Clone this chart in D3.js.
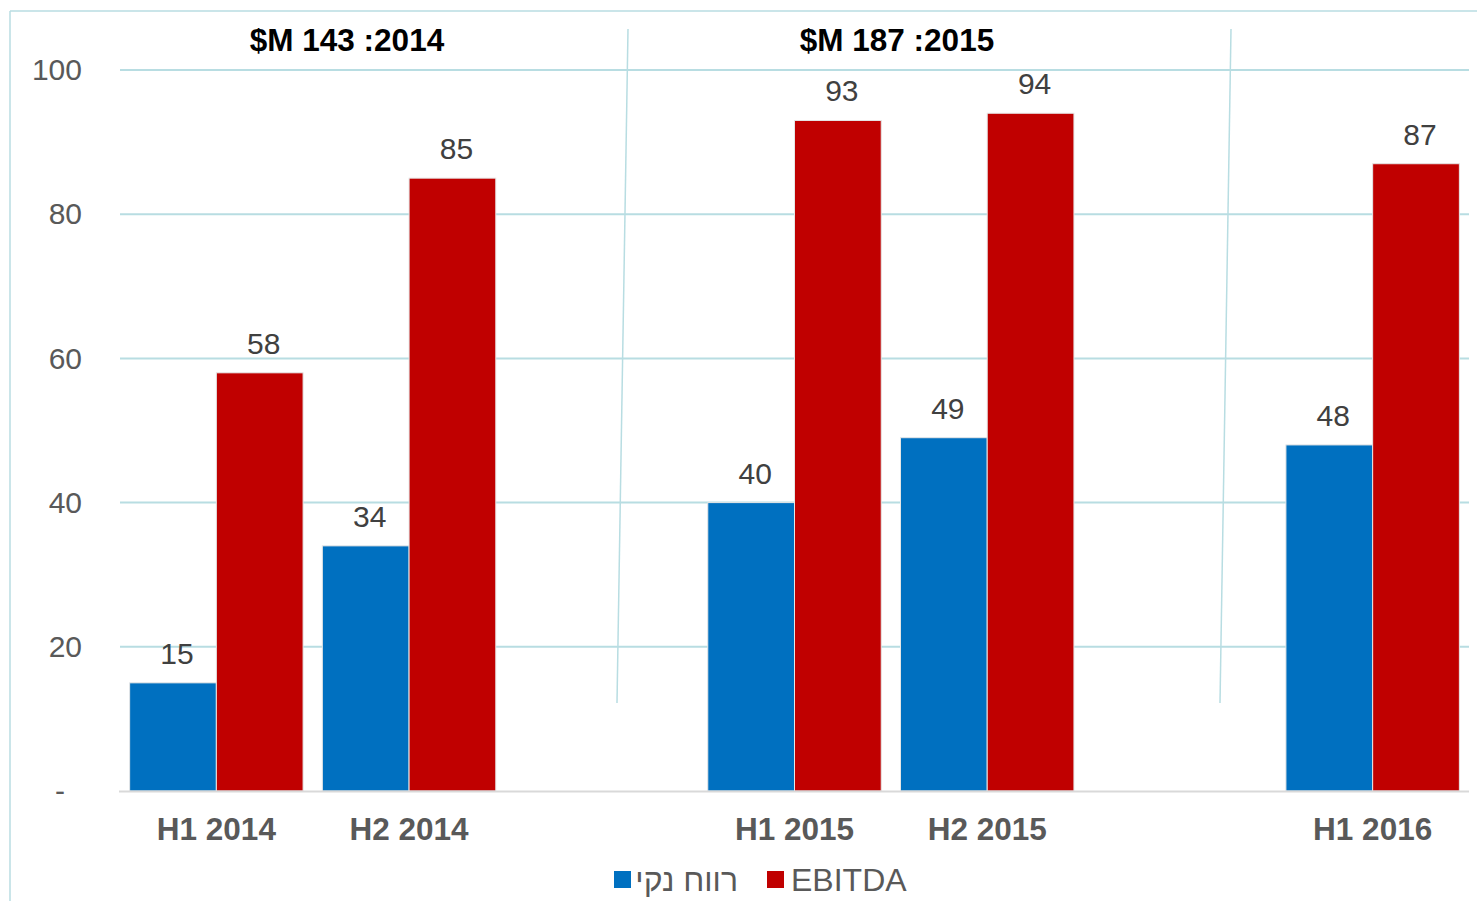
<!DOCTYPE html>
<html><head><meta charset="utf-8">
<script src="https://cdn.jsdelivr.net/npm/d3@7/dist/d3.min.js"></script>
<style>
html,body{margin:0;padding:0;background:#fff;}
svg{display:block;font-family:"Liberation Sans",Arial,"DejaVu Sans",sans-serif;}
</style></head>
<body>
<svg id="chart" width="1477" height="901"></svg>
<script>
// ---- data ----
const categories = ["H1 2014","H2 2014","gap1","H1 2015","H2 2015","gap2","H1 2016"];
const netProfit = [15, 34, null, 40, 49, null, 48];   // רווח נקי
const ebitda    = [58, 85, null, 93, 94, null, 87];   // EBITDA
const seriesNames = ["רווח נקי", "EBITDA"];
const yTicks = [0, 20, 40, 60, 80, 100];
const groupTitles = ["$M 143 :2014", "$M 187 :2015"];

// ---- layout ----
const W = 1477, H = 901;
const plot = {left: 120, right: 1469, top: 70, bottom: 791};
const colors = ["#0070C0", "#C00000"];
const gridColor = "#b8dde2";
const textGray = "#595959";

const svg = d3.select("#chart");

// outer frame (top + left edges)
svg.append("line").attr("x1",10).attr("x2",W).attr("y1",11).attr("y2",11)
  .attr("stroke",gridColor).attr("stroke-width",1.5);
svg.append("line").attr("x1",10).attr("x2",10).attr("y1",11).attr("y2",H)
  .attr("stroke",gridColor).attr("stroke-width",1.5);

const x0 = d3.scaleBand().domain(categories).range([plot.left, plot.right])
  .paddingInner(0.1).paddingOuter(0.05);
const x1 = d3.scaleBand().domain([0,1]).range([0, x0.bandwidth()]);
const y = d3.scaleLinear().domain([0,100]).range([plot.bottom, plot.top]);

// gridlines
svg.append("g").selectAll("line").data(yTicks.filter(d=>d>0)).join("line")
  .attr("x1", plot.left).attr("x2", plot.right)
  .attr("y1", d=>y(d)).attr("y2", d=>y(d))
  .attr("stroke", gridColor).attr("stroke-width", 2);

// separators
const seps = [[628,29,617,703],[1231,29,1220,703]];
svg.append("g").selectAll("line").data(seps).join("line")
  .attr("x1",d=>d[0]).attr("y1",d=>d[1]).attr("x2",d=>d[2]).attr("y2",d=>d[3])
  .attr("stroke", gridColor).attr("stroke-width", 1.5);

// y axis
const yAxis = d3.axisLeft(y).tickValues(yTicks).tickSize(0).tickPadding(0)
  .tickFormat(d => d === 0 ? "-" : d);
const gy = svg.append("g").attr("transform", `translate(82,0)`).call(yAxis);
gy.select(".domain").remove();
gy.selectAll("text").attr("fill", textGray).attr("font-size", 30)
  .attr("font-family", "Liberation Sans, Arial, sans-serif")
  .attr("dx", d => d === 0 ? -17 : 0);

// bars
const rows = categories.map((c,i)=>({c, vals:[netProfit[i], ebitda[i]]}));
const groups = svg.append("g").selectAll("g").data(rows.filter(r=>r.vals[0]!==null)).join("g")
  .attr("transform", d=>`translate(${x0(d.c)},0)`);
groups.selectAll("rect").data(d=>d.vals.map((v,k)=>({v,k}))).join("rect")
  .attr("x", d=>x1(d.k)).attr("width", x1.bandwidth())
  .attr("y", d=>y(d.v)).attr("height", d=>y(0)-y(d.v))
  .attr("fill", d=>colors[d.k]).attr("stroke","#e6e6e6").attr("stroke-width",1);
groups.selectAll("text").data(d=>d.vals.map((v,k)=>({v,k}))).join("text")
  .attr("x", d=>x1(d.k)+x1.bandwidth()/2 + 4).attr("y", d=>y(d.v)-19)
  .attr("text-anchor","middle").attr("font-size",30).attr("fill","#404040")
  .text(d=>d.v);

// baseline
svg.append("line").attr("x1", plot.left-1).attr("x2", plot.right).attr("y1", y(0)+0.5).attr("y2", y(0)+0.5)
  .attr("stroke","#d9d9d9").attr("stroke-width",2);

// x axis labels
const xAxis = d3.axisBottom(x0).tickSize(0).tickPadding(0)
  .tickFormat(d => d.startsWith("gap") ? "" : d);
const gx = svg.append("g").attr("transform", `translate(0,${plot.bottom})`).call(xAxis);
gx.select(".domain").remove();
gx.selectAll("text").attr("fill", textGray).attr("font-size", 31.5).attr("font-weight","bold")
  .attr("font-family", "Liberation Sans, Arial, sans-serif")
  .attr("dy", null).attr("y", 49);

// group titles
const titleX = [347, 897];
svg.append("g").selectAll("text").data(groupTitles).join("text")
  .attr("x",(d,i)=>titleX[i]).attr("y",51).attr("text-anchor","middle")
  .attr("font-size",31.5).attr("font-weight","bold").attr("fill","#000")
  .text(d=>d);

// legend
const legend = svg.append("g");
const legItems = [
  {sq: 614, tx: 738, anchor: "end"},
  {sq: 767, tx: 791, anchor: "start"}
];
legItems.forEach((it,i)=>{
  legend.append("rect").attr("x", it.sq).attr("y", 871).attr("width",17).attr("height",17)
    .attr("fill", colors[i]);
  legend.append("text").attr("x", it.tx).attr("y", 891).attr("text-anchor", it.anchor)
    .attr("font-size", 32).attr("fill", textGray)
    .text(seriesNames[i]);
});
</script>
</body></html>
